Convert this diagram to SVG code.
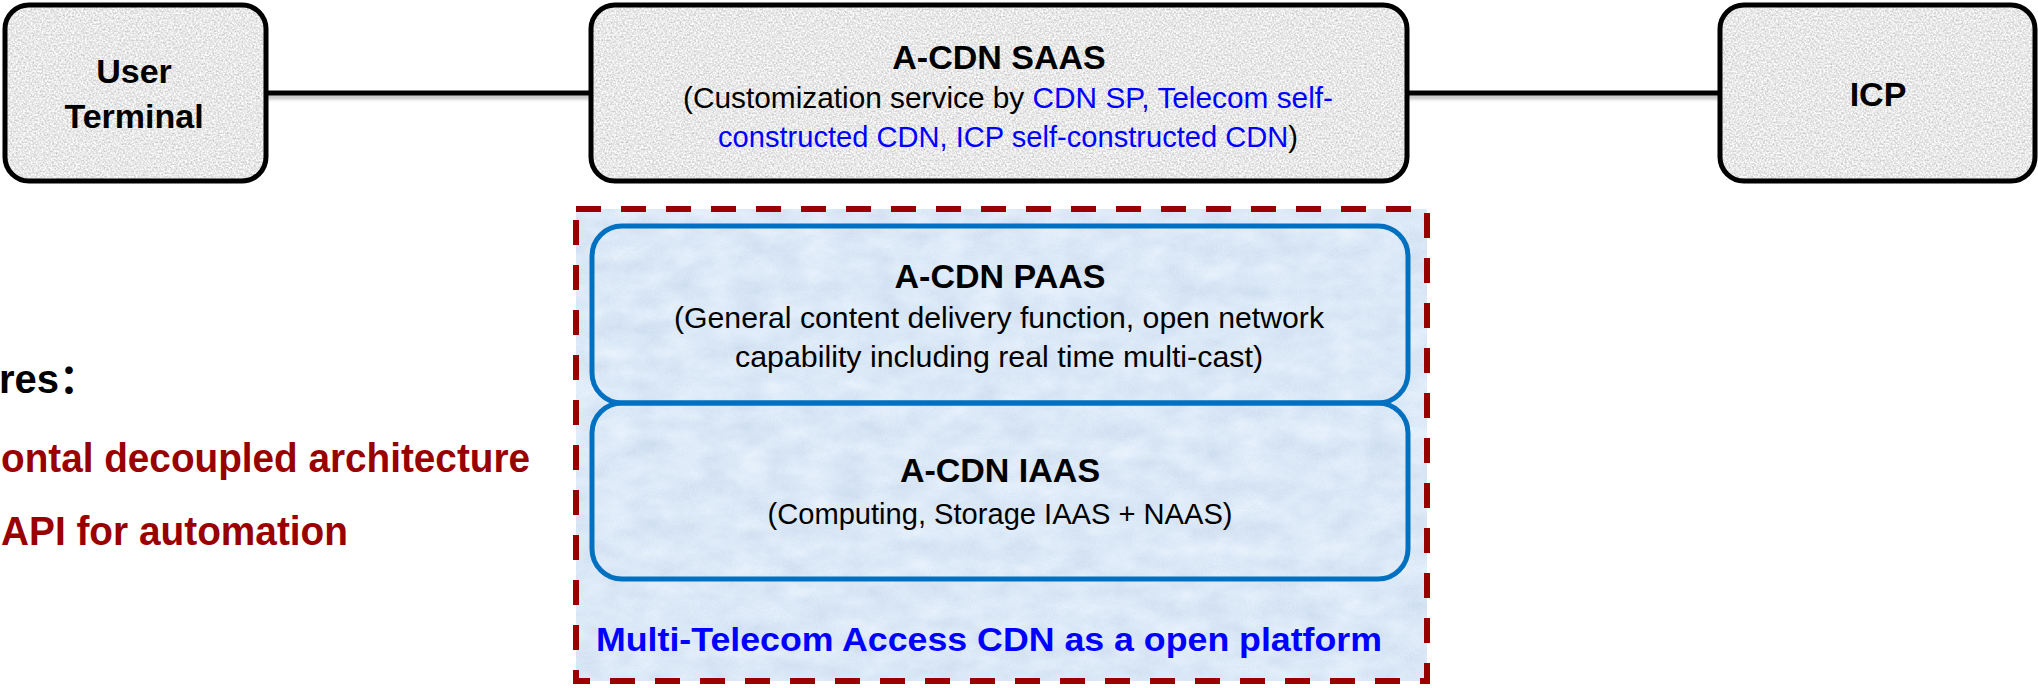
<svg xmlns="http://www.w3.org/2000/svg" width="2038" height="688" viewBox="0 0 2038 688">
  <defs>
    <!-- fine granite grain for the grey service boxes -->
    <filter id="grain-grey" x="0" y="0" width="100%" height="100%" color-interpolation-filters="sRGB">
      <feTurbulence type="fractalNoise" baseFrequency="0.55" numOctaves="2" seed="7" result="noise"/>
      <feColorMatrix in="noise" type="matrix" values="0.40 0 0 0 0.71  0.40 0 0 0 0.71  0.40 0 0 0 0.71  0 0 0 0 1" result="tone"/>
      <feComposite in="tone" in2="SourceGraphic" operator="in"/>
    </filter>
    <!-- soft mottled light-blue wash for the platform area -->
    <filter id="grain-blue" x="0" y="0" width="100%" height="100%" color-interpolation-filters="sRGB">
      <feTurbulence type="fractalNoise" baseFrequency="0.03 0.05" numOctaves="4" seed="11" result="cloud"/>
      <feTurbulence type="fractalNoise" baseFrequency="0.6" numOctaves="1" seed="3" result="fine"/>
      <feComposite in="cloud" in2="fine" operator="arithmetic" k1="0" k2="0.7" k3="0.3" k4="0" result="mix"/>
      <feColorMatrix in="mix" type="matrix" values="0.16 0 0 0 0.78  0.13 0 0 0 0.845  0.08 0 0 0 0.925  0 0 0 0 1" result="tone"/>
      <feComposite in="tone" in2="SourceGraphic" operator="in"/>
    </filter>
    <filter id="soft" filterUnits="userSpaceOnUse" x="0" y="80" width="2038" height="30">
      <feGaussianBlur stdDeviation="1.5"/>
    </filter>
  </defs>
  <style>
    .box-fill { fill: #e8e8e8; }
    .box-edge { fill: none; stroke: #000; stroke-width: 5; }
    .layer { fill: none; stroke: #0070c0; stroke-width: 5; }
    .frame { fill: none; stroke: #990000; stroke-width: 6; stroke-dasharray: 25 20; }
    .conn { stroke: #000; stroke-width: 5; fill: none; }
    .conn-shadow { stroke: #8c8c8c; stroke-opacity: 0.5; stroke-width: 5; fill: none; }
    .title { font-family: "Liberation Sans", Arial, sans-serif; font-weight: bold; font-size: 34px; fill: #000; text-anchor: middle; }
    .desc { font-family: "Liberation Sans", Arial, sans-serif; font-size: 29px; fill: #000; text-anchor: middle; }
    .hl { fill: #0000ff; }
    .feature { font-family: "Liberation Sans", Arial, sans-serif; font-weight: bold; font-size: 40px; fill: #990000; }
    .platform { font-family: "Liberation Sans", Arial, sans-serif; font-weight: bold; font-size: 34px; fill: #0000ff; }
  </style>

  <rect width="2038" height="688" fill="#ffffff"/>

  <!-- features list, partly cut off at the left margin -->
  <g id="features">
    <text x="-1" y="393" font-family="Liberation Sans, Noto Sans CJK SC, sans-serif" font-size="40" font-weight="bold" fill="#000">res：</text>
    <text class="feature" x="1" y="472" textLength="529" lengthAdjust="spacingAndGlyphs">ontal decoupled architecture</text>
    <text class="feature" x="1" y="545" textLength="347" lengthAdjust="spacingAndGlyphs">API for automation</text>
  </g>

  <!-- connectors -->
  <g id="connectors">
    <g filter="url(#soft)">
      <line class="conn-shadow" x1="267" y1="97" x2="591" y2="97"/>
      <line class="conn-shadow" x1="1407" y1="97" x2="1720" y2="97"/>
    </g>
    <line class="conn" x1="267" y1="93" x2="591" y2="93"/>
    <line class="conn" x1="1407" y1="93" x2="1720" y2="93"/>
  </g>

  <g id="user-terminal">
    <rect class="box-fill" x="5" y="5" width="261" height="176" rx="24" filter="url(#grain-grey)"/>
    <rect class="box-edge" x="5" y="5" width="261" height="176" rx="24"/>
    <text class="title" x="134" y="83" font-size="33">User</text>
    <text class="title" x="134" y="128" font-size="33">Terminal</text>
  </g>

  <g id="acdn-saas">
    <rect class="box-fill" x="591" y="5" width="816" height="176" rx="24" filter="url(#grain-grey)"/>
    <rect class="box-edge" x="591" y="5" width="816" height="176" rx="24"/>
    <text class="title" x="999" y="69">A-CDN SAAS</text>
    <text class="desc" x="1008" y="108" textLength="650" lengthAdjust="spacingAndGlyphs">(Customization service by <tspan class="hl">CDN SP, Telecom self-</tspan></text>
    <text class="desc" x="1008" y="147" textLength="580" lengthAdjust="spacingAndGlyphs"><tspan class="hl">constructed CDN, ICP self-constructed CDN</tspan>)</text>
  </g>

  <g id="icp">
    <rect class="box-fill" x="1720" y="5" width="315" height="176" rx="24" filter="url(#grain-grey)"/>
    <rect class="box-edge" x="1720" y="5" width="315" height="176" rx="24"/>
    <text class="title" x="1878" y="106" font-size="33">ICP</text>
  </g>

  <!-- open platform container with its two stacked layers -->
  <g id="open-platform">
    <rect x="576" y="209" width="851" height="472" fill="#dbe9f7" filter="url(#grain-blue)"/>
    <rect class="frame" x="576" y="209" width="851" height="472"/>
    <text class="platform" x="596" y="651" textLength="786" lengthAdjust="spacingAndGlyphs">Multi-Telecom Access CDN as a open platform</text>
  </g>

  <g id="acdn-paas">
    <rect class="layer" x="592" y="226" width="816" height="177" rx="30"/>
    <text class="title" x="1000" y="288">A-CDN PAAS</text>
    <text class="desc" x="999" y="328" textLength="650" lengthAdjust="spacingAndGlyphs">(General content delivery function, open network</text>
    <text class="desc" x="999" y="367" textLength="528" lengthAdjust="spacingAndGlyphs">capability including real time multi-cast)</text>
  </g>

  <g id="acdn-iaas">
    <rect class="layer" x="592" y="403" width="816" height="176" rx="30"/>
    <text class="title" x="1000" y="482">A-CDN IAAS</text>
    <text class="desc" x="1000" y="524" textLength="465" lengthAdjust="spacingAndGlyphs">(Computing, Storage IAAS + NAAS)</text>
  </g>
</svg>
